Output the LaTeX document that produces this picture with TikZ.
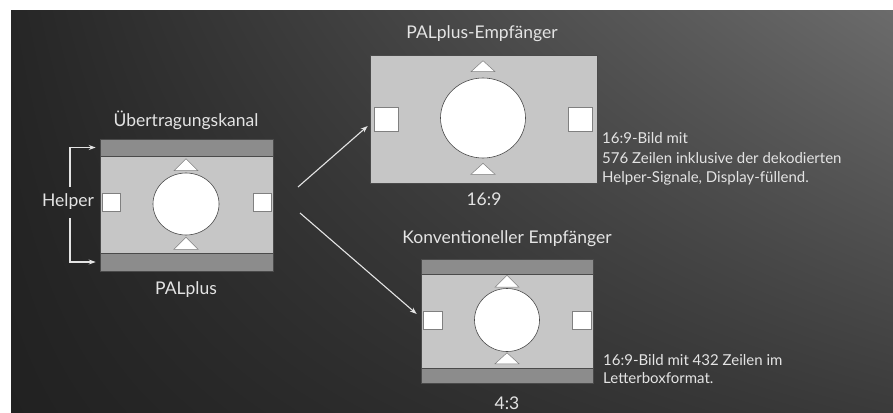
\documentclass[tikz,border=0pt]{standalone}
\usepackage{fontspec}
\setmainfont{Lato}
\usetikzlibrary{arrows.meta,shapes.geometric,shadings}
\definecolor{hell}{HTML}{C6C6C6}
\definecolor{dunkel}{HTML}{8C8C8C}
\definecolor{rahmen}{HTML}{4A4A4A}
\definecolor{schrift}{HTML}{E4E4E4}

\begin{document}
\begin{tikzpicture}[x=1pt,y=-1pt]
\tikzset{bild/.style={draw=rahmen,fill=hell,inner sep=0pt,line width=0.6pt},
  band/.style={draw=rahmen,fill=dunkel,inner sep=0pt,line width=0.6pt},
  kreis/.style={ellipse,draw=rahmen,fill=white,inner sep=0pt,line width=0.6pt},
  quad/.style={draw=rahmen!70,fill=white,inner sep=0pt,line width=0.6pt},
  dreieck/.style={draw=rahmen!70,fill=white,line width=0.5pt},
  titel/.style={text=schrift,inner sep=0pt,font=\fontsize{17.5}{20}\selectfont},
  notiz/.style={text=schrift,inner sep=0pt,anchor=west,font=\fontsize{15}{19}\selectfont},
  pfeil/.style={draw=schrift,line width=1.1pt,-{Stealth[length=7pt,width=5pt]}}}
\useasboundingbox (0,0) rectangle (893,412);
\fill[white] (0,0) rectangle (893,412);
\shade[upper left=black!85,lower left=black!87,upper right=black!58,lower right=black!77] (11,11) rectangle (893,412);

% Uebertragungskanal
\node (kanal) at (186.5,205) [bild,minimum width=173pt,minimum height=132pt] {};
\node (kband1) at (kanal.north) [band,anchor=north,minimum width=173pt,minimum height=17pt] {};
\node (kband2) at (kanal.south) [band,anchor=south,minimum width=173pt,minimum height=18pt] {};
\node (kkreis) at (186,204) [kreis,minimum width=66pt,minimum height=62pt] {};
\node (kq1) at (111,202) [quad,minimum size=18pt] {};
\node (kq2) at (262,202) [quad,minimum size=18pt] {};
\draw[dreieck] ([shift={(-12pt,2pt)}]kkreis.north) -- ++(24,0) -- ++(-12,-12) -- cycle;
\draw[dreieck] ([yshift=-2pt]kkreis.south) -- ++(-12,12) -- ++(24,0) -- cycle;
\node (ktitel) at (186,120) [titel] {Übertragungskanal};
\node (kname) at (186,290) [titel] {PALplus};
\node (helper) at (68,202) [titel] {Helper};

% PALplus-Empfaenger
\node (plus) at (483.5,119) [bild,minimum width=227pt,minimum height=128pt] {};
\node (pkreis) at (483,118) [kreis,minimum width=85pt,minimum height=80pt] {};
\node (pq1) at (386,119) [quad,minimum size=24pt] {};
\node (pq2) at (580,119) [quad,minimum size=24pt] {};
\draw[dreieck] ([shift={(-12pt,6pt)}]pkreis.north) -- ++(24,0) -- ++(-12,-11) -- cycle;
\draw[dreieck] ([yshift=-5pt]pkreis.south) -- ++(-12,11) -- ++(24,0) -- cycle;
\node (ptitel) at (482,34) [titel] {PALplus-Empfänger};
\node (pformat) at (484,199) [titel] {16:9};
\node (ptext1) at (602,138) [notiz] {16:9-Bild mit};
\node (ptext2) at (602,158) [notiz] {576 Zeilen inklusive der dekodierten};
\node (ptext3) at (602,178) [notiz] {Helper-Signale, Display-füllend.};

% Konventioneller Empfaenger
\node (konv) at (507,321) [bild,minimum width=172pt,minimum height=124pt] {};
\node (vband1) at (konv.north) [band,anchor=north,minimum width=172pt,minimum height=15pt] {};
\node (vband2) at (konv.south) [band,anchor=south,minimum width=172pt,minimum height=15pt] {};
\node (vkreis) at (507,320) [kreis,minimum width=65pt,minimum height=63pt] {};
\node (vq1) at (432.5,320.5) [quad,minimum width=19pt,minimum height=18pt] {};
\node (vq2) at (581.5,320.5) [quad,minimum width=19pt,minimum height=18pt] {};
\draw[dreieck] ([shift={(-12pt,1pt)}]vkreis.north) -- ++(24,0) -- ++(-12,-12) -- cycle;
\draw[dreieck] ([yshift=-1pt]vkreis.south) -- ++(-12,11) -- ++(24,0) -- cycle;
\node (vtitel) at (507,239) [titel] {Konventioneller Empfänger};
\node (vformat) at (507,403) [titel] {4:3};
\node (vtext1) at (603,360) [notiz] {16:9-Bild mit 432 Zeilen im};
\node (vtext2) at (603,378) [notiz] {Letterboxformat.};

% Pfeile
\coordinate (h1) at (70,187);
\coordinate (h2) at (70,218);
\coordinate (a1) at (298,187);
\coordinate (a2) at (300,213);
\draw[pfeil] (h1) |- ([xshift=-4pt]kband1.west);
\draw[pfeil] (h2) |- ([xshift=-4pt]kband2.west);
\draw[pfeil] (a1) -- ([shift={(-2pt,-7pt)}]plus.west);
\draw[pfeil] (a2) -- ([shift={(-4pt,7pt)}]konv.west);
\end{tikzpicture}
\end{document}
